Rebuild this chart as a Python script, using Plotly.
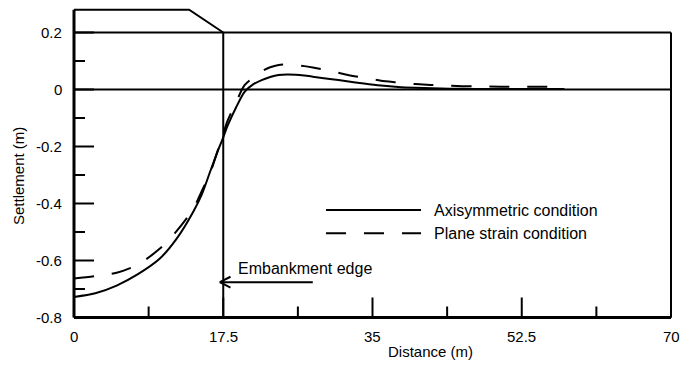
import plotly.graph_objects as go

# Surface settlement profiles beside the embankment
distance = [0, 2.5, 5, 7.5, 10, 12, 14, 15, 16, 17, 17.5, 18, 19, 20, 21, 22,
            23, 24, 25, 26, 27, 28, 30, 32, 34, 36, 38, 40, 42, 44, 47, 50,
            53, 55, 57.5]
axisymmetric = [-0.728, -0.715, -0.688, -0.648, -0.595, -0.525, -0.428, -0.367,
                -0.285, -0.205, -0.168, -0.128, -0.063, -0.008, 0.018, 0.033,
                0.044, 0.051, 0.053, 0.052, 0.049, 0.045, 0.037, 0.029, 0.021,
                0.014, 0.009, 0.006, 0.004, 0.003, 0.002, 0.002, 0.002, 0.002,
                0.002]
plane_strain = [-0.663, -0.655, -0.643, -0.614, -0.560, -0.498, -0.418, -0.355,
                -0.290, -0.200, -0.155, -0.110, -0.045, 0.015, 0.042, 0.064,
                0.078, 0.086, 0.088, 0.086, 0.082, 0.077, 0.066, 0.052, 0.041,
                0.031, 0.025, 0.019, 0.016, 0.013, 0.011, 0.010, 0.010, 0.010,
                0.010]

# Embankment outline (half section) and its edge
embankment_x = [0, 13.5, 17.5]
embankment_y = [0.28, 0.28, 0.2]
edge_x = 17.5

x_ticks = [0, 17.5, 35, 52.5, 70]
x_tick_text = ["0", "17.5", "35", "52.5", "70"]
y_ticks = [-0.8, -0.6, -0.4, -0.2, 0, 0.2]
y_tick_text = ["-0.8", "-0.6", "-0.4", "-0.2", "0", "0.2"]

series_names = ["Axisymmetric condition", "Plane strain condition"]

FONT = "Liberation Sans, Arial, sans-serif"
W, H = 685, 372
# frame corners in pixels: x 0 -> 74, x 70 -> 671; y 0 -> 89.5, y -0.8 -> 317.5
X0_PX, X70_PX = 74.0, 671.0
Y0_PX, YM08_PX = 89.5, 317.5
ML, MR, MT, MB = 71, 11, 7, 52
PX_PER_X = (X70_PX - X0_PX) / 70
PX_PER_Y = (YM08_PX - Y0_PX) / 0.8
X_RANGE = [-(X0_PX - ML) / PX_PER_X, 70 + (W - MR - X70_PX) / PX_PER_X]
Y_RANGE = [-(H - MB - Y0_PX) / PX_PER_Y, (Y0_PX - MT) / PX_PER_Y]
LW = 2
DASH = "20px,18px"
MAJOR_LEN, MINOR_LEN = 20, 11


def px_x(p):
    return (p - ML) / (W - ML - MR)


def px_y(p):
    return (H - MB - p) / (H - MT - MB)


x_min, x_max = x_ticks[0], x_ticks[-1]
y_min, y_top = y_ticks[0], y_ticks[-1]

fig = go.Figure()

fig.add_trace(go.Scatter(x=embankment_x, y=embankment_y, mode="lines",
                         line=dict(color="black", width=LW), showlegend=False,
                         hoverinfo="skip"))
fig.add_trace(go.Scatter(x=distance, y=axisymmetric, mode="lines",
                         name=series_names[0],
                         line=dict(color="black", width=LW, shape="spline",
                                   smoothing=0.8),
                         showlegend=False))
fig.add_trace(go.Scatter(x=distance, y=plane_strain, mode="lines",
                         name=series_names[1],
                         line=dict(color="black", width=LW, dash=DASH,
                                   shape="spline", smoothing=0.8),
                         showlegend=False))

frame = dict(color="black", width=LW)

# left side of the section and the distance axis
fig.add_shape(type="line", xref="x", yref="y", x0=x_min, x1=x_min, y0=y_min,
              y1=embankment_y[0], line=dict(color="black", width=3))
fig.add_shape(type="line", xref="x", yref="y", x0=x_min, x1=x_max, y0=y_min,
              y1=y_min, line=dict(color="black", width=3))
# top boundary, zero line, right boundary and embankment edge
fig.add_shape(type="line", xref="x", yref="y", x0=x_min, x1=x_max, y0=y_top,
              y1=y_top, line=frame)
fig.add_shape(type="line", xref="x", yref="y", x0=x_min, x1=x_max, y0=0, y1=0,
              line=frame)
fig.add_shape(type="line", xref="x", yref="y", x0=x_max, x1=x_max, y0=y_min,
              y1=y_top, line=frame)
fig.add_shape(type="line", xref="x", yref="y", x0=edge_x, x1=edge_x, y0=y_min,
              y1=y_top, line=frame)

# Inward ticks: majors at labelled values, minors halfway between
x_minor = [(a + b) / 2 for a, b in zip(x_ticks[:-1], x_ticks[1:])]
y_minor = [(a + b) / 2 for a, b in zip(y_ticks[:-1], y_ticks[1:])]
for vals, length in ((x_ticks, MAJOR_LEN), (x_minor, MINOR_LEN)):
    for v in vals:
        fig.add_shape(type="line", xref="x", yref="y", x0=v, x1=v, y0=y_min,
                      y1=y_min + length / PX_PER_Y, line=frame)
for vals, length in ((y_ticks, MAJOR_LEN), (y_minor, MINOR_LEN)):
    for v in vals:
        fig.add_shape(type="line", xref="x", yref="y", x0=x_min,
                      x1=x_min + length / PX_PER_X, y0=v, y1=v, line=frame)

# Arrow pointing at the embankment edge
arrow_y = -0.676
arrow_tip = edge_x - 0.4
fig.add_shape(type="line", xref="x", yref="y", x0=28.0, x1=arrow_tip,
              y0=arrow_y, y1=arrow_y, line=frame)
fig.add_shape(type="line", xref="x", yref="y", x0=arrow_tip + 1.25, x1=arrow_tip,
              y0=arrow_y + 0.019, y1=arrow_y, line=frame)
fig.add_shape(type="line", xref="x", yref="y", x0=arrow_tip + 1.25, x1=arrow_tip,
              y0=arrow_y - 0.019, y1=arrow_y, line=frame)

# Legend samples
leg_x0, leg_x1 = px_x(326), px_x(421)
for i, ly in enumerate([210, 233.3]):
    fig.add_shape(type="line", xref="paper", yref="paper",
                  x0=leg_x0, x1=leg_x1, y0=px_y(ly), y1=px_y(ly),
                  line=dict(color="black", width=LW,
                            dash="solid" if i == 0 else DASH))

tick_font = dict(family=FONT, size=15, color="black")
for v, t in zip(x_ticks, x_tick_text):
    fig.add_annotation(text=t, xref="x", yref="paper", x=v, y=px_y(336.5),
                       xanchor="center", yanchor="middle", showarrow=False,
                       font=tick_font)
for v, t in zip(y_ticks, y_tick_text):
    fig.add_annotation(text=t, xref="paper", yref="y", x=px_x(64), y=v,
                       xanchor="right", yanchor="middle", showarrow=False,
                       font=tick_font)

label_font = dict(family=FONT, size=16, color="black")
fig.add_annotation(text=series_names[0], xref="paper", yref="paper", x=px_x(432),
                   y=px_y(210), xanchor="left", yanchor="middle", showarrow=False,
                   font=label_font)
fig.add_annotation(text=series_names[1], xref="paper", yref="paper", x=px_x(432),
                   y=px_y(233.3), xanchor="left", yanchor="middle", showarrow=False,
                   font=label_font)
fig.add_annotation(text="Embankment edge", xref="paper", yref="paper", x=px_x(236),
                   y=px_y(268), xanchor="left", yanchor="middle", showarrow=False,
                   font=label_font)
fig.add_annotation(text="Distance (m)", xref="paper", yref="paper", x=px_x(430),
                   y=px_y(351), xanchor="center", yanchor="middle", showarrow=False,
                   font=tick_font)
fig.add_annotation(text="Settlement (m)", xref="paper", yref="paper", x=px_x(18),
                   y=px_y(176), xanchor="center", yanchor="middle", showarrow=False,
                   textangle=-90, font=tick_font)

fig.update_layout(
    width=W, height=H,
    margin=dict(l=ML, r=MR, t=MT, b=MB),
    plot_bgcolor="white",
    showlegend=False,
    font=dict(family=FONT, size=15, color="black"),
)
fig.update_xaxes(range=X_RANGE, visible=False)
fig.update_yaxes(range=Y_RANGE, visible=False)

fig.write_html("out.html")
